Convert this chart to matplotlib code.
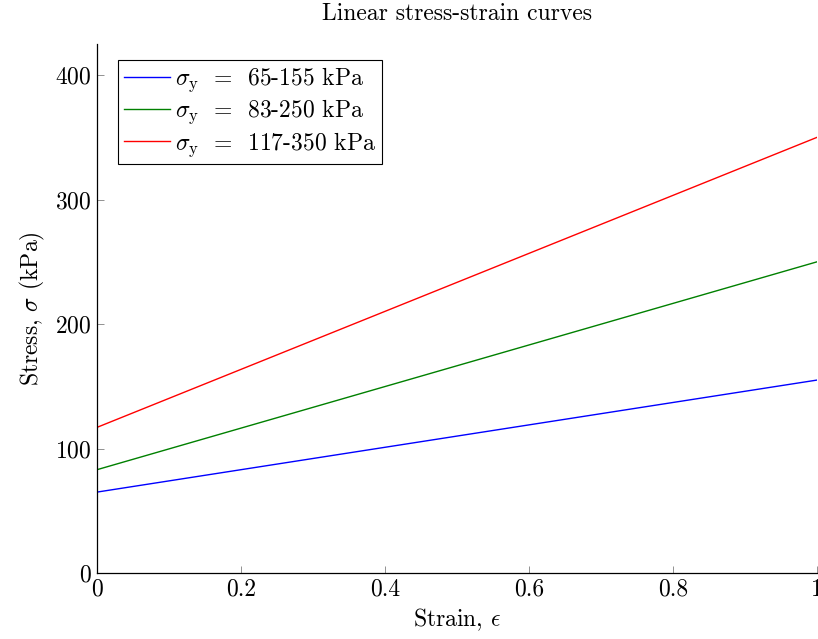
import numpy as np
import matplotlib
matplotlib.use("Agg")
import matplotlib.pyplot as plt

# data: linear curves, stress at strain 0 and 1
strain = [0, 1]
labels = [r"$\sigma_\mathrm{y}\ \,=\;\;$65-155 kPa",
          r"$\sigma_\mathrm{y}\ \,=\;\;$83-250 kPa",
          r"$\sigma_\mathrm{y}\ \,=\;\;$117-350 kPa"]
stress_low = [65, 155]
stress_mid = [83, 250]
stress_high = [117, 350]
colors = ["blue", "green", "red"]

plt.rcParams["font.family"] = ["cmr10"]
plt.rcParams["mathtext.fontset"] = "cm"
plt.rcParams["axes.formatter.use_mathtext"] = True
plt.rcParams["font.size"] = 17

fig = plt.figure(figsize=(8.18, 6.39), dpi=100)
ax = fig.add_axes([97/818, 1 - 573/639, 720/818, (573-44)/639])

for ys, c, lab in zip([stress_low, stress_mid, stress_high], colors, labels):
    ax.plot(strain, ys, color=c, lw=1.0, label=lab)

ax.set_xlim(0, 1)
ax.set_ylim(0, 425)
ax.set_xticks([0, 0.2, 0.4, 0.6, 0.8, 1])
ax.set_xticklabels(["0", "0.2", "0.4", "0.6", "0.8", "1"])
ax.set_yticks([0, 100, 200, 300, 400])
ax.spines["top"].set_visible(False)
ax.spines["right"].set_visible(False)
ax.tick_params(direction="in", length=5, width=0.6, color="0.5", labelsize=17, pad=4)
for s in ["left", "bottom"]:
    ax.spines[s].set_linewidth(0.9)

ax.set_xlabel(r"Strain, $\epsilon$", fontsize=17, labelpad=4)
ax.set_ylabel(r"Stress, $\sigma$ (kPa)", fontsize=17, labelpad=6)
fig.text(457/818, 1 - 14/639, "Linear stress-strain curves", ha="center", va="center", fontsize=17)

leg = ax.legend(loc="upper left", bbox_to_anchor=(21/720, 1 - 16/529), fontsize=17,
                frameon=True, fancybox=False, edgecolor="black", framealpha=1,
                handlelength=1.95, handletextpad=0.2, borderpad=0.25, labelspacing=0.15,
                borderaxespad=0)
leg.get_frame().set_linewidth(0.8)

fig.savefig("out.png", dpi=100)
